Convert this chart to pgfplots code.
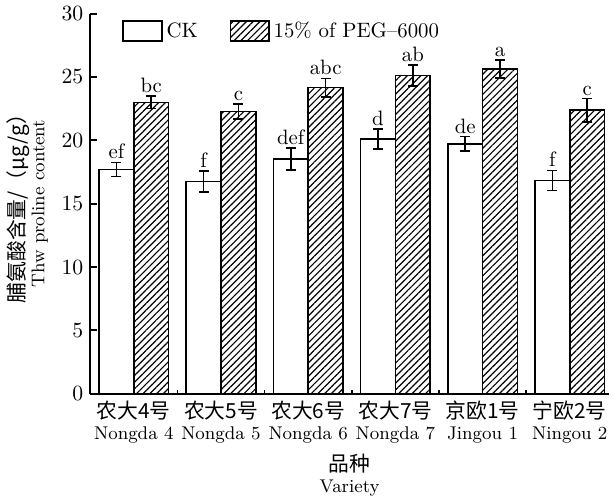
\documentclass[border=0pt]{standalone}
\usepackage{fontspec}
\usepackage{pgfplots}
\pgfplotsset{compat=1.18}
\usetikzlibrary{patterns.meta}
\newfontfamily\cjk{Noto Sans CJK SC}
\newcommand{\en}{\fontsize{9.3}{10}\selectfont}

\begin{document}
\begin{tikzpicture}[font=\fontsize{10.5}{12}\selectfont]
\begin{axis}[
  width=262pt, height=192pt, scale only axis,
  ybar=0pt, bar width=0.4,
  xmin=-0.5, xmax=5.45, ymin=0, ymax=30,
  axis x line*=bottom, axis y line*=left,
  axis line style={line width=1pt, -},
  ytick={0,5,...,30},
  tick align=inside, major tick length=3.5pt,
  tick style={line width=1pt, black},
  xtick={0,...,5},
  xtick style={draw=none},
  xticklabels={{\cjk 农大4号}\\{\en Nongda 4}, {\cjk 农大5号}\\{\en Nongda 5}, {\cjk 农大6号}\\{\en Nongda 6}, {\cjk 农大7号}\\{\en Nongda 7}, {\cjk 京欧1号}\\{\en Jingou 1}, {\cjk 宁欧2号}\\{\en Ningou 2}},
  xticklabel style={align=center, font=\fontsize{10.5}{10.5}\selectfont},
  extra x ticks={0.5,1.5,2.5,3.5,4.5},
  extra x tick labels={},
  extra x tick style={xtick style={draw=black, line width=0.8pt}, major tick length=2pt},
  xlabel={{\cjk 品种}\\{\en Variety}},
  xlabel style={align=center, font=\fontsize{10.5}{11}\selectfont, yshift=1.5pt},
  ylabel={{\cjk 脯氨酸含量/（μg/g）}\\{\en Thw proline content}},
  ylabel style={align=center, font=\fontsize{10.5}{9}\selectfont},
  legend style={at={(0.05,1.0)}, anchor=north west, draw=none, fill=none, legend columns=2,
    /tikz/every even column/.append style={column sep=14pt}},
  legend image code/.code={\draw[#1] (0pt,-5pt) rectangle (19.5pt,5pt);},
]
\addplot[fill=white, draw=black, line width=0.8pt,
  error bars/.cd, y dir=both, y explicit,
  error bar style={line width=0.8pt, black},
  error mark options={rotate=90, mark size=2.5pt, line width=0.8pt, black}]
  coordinates {(0,17.7) +- (0,0.55) (1,16.75) +- (0,0.85) (2,18.53) +- (0,0.85)
               (3,20.1) +- (0,0.8) (4,19.73) +- (0,0.56) (5,16.83) +- (0,0.8)};
\addlegendentry{CK}
\addplot[fill=white, draw=black, line width=0.8pt,
  postaction={pattern={Lines[angle=45, distance=2.4pt, line width=0.6pt]}},
  error bars/.cd, y dir=both, y explicit,
  error bar style={line width=0.8pt, black},
  error mark options={rotate=90, mark size=2.5pt, line width=0.8pt, black}]
  coordinates {(0,23.0) +- (0,0.5) (1,22.27) +- (0,0.6) (2,24.16) +- (0,0.72)
               (3,25.12) +- (0,0.84) (4,25.63) +- (0,0.7) (5,22.37) +- (0,0.92)};
\addlegendentry{15\% of PEG--6000}
\node[above, inner sep=1.5pt] at (axis cs:-0.2,18.25) {ef};
\node[above, inner sep=1.5pt] at (axis cs:0.8,17.6) {f};
\node[above, inner sep=1.5pt] at (axis cs:1.8,19.38) {def};
\node[above, inner sep=1.5pt] at (axis cs:2.8,20.9) {d};
\node[above, inner sep=1.5pt] at (axis cs:3.8,20.29) {de};
\node[above, inner sep=1.5pt] at (axis cs:4.8,17.63) {f};
\node[above, inner sep=1.5pt] at (axis cs:0.2,23.5) {bc};
\node[above, inner sep=1.5pt] at (axis cs:1.2,22.87) {c};
\node[above, inner sep=1.5pt] at (axis cs:2.2,24.88) {abc};
\node[above, inner sep=1.5pt] at (axis cs:3.2,25.96) {ab};
\node[above, inner sep=1.5pt] at (axis cs:4.2,26.33) {a};
\node[above, inner sep=1.5pt] at (axis cs:5.2,23.29) {c};
\end{axis}
\end{tikzpicture}
\end{document}
